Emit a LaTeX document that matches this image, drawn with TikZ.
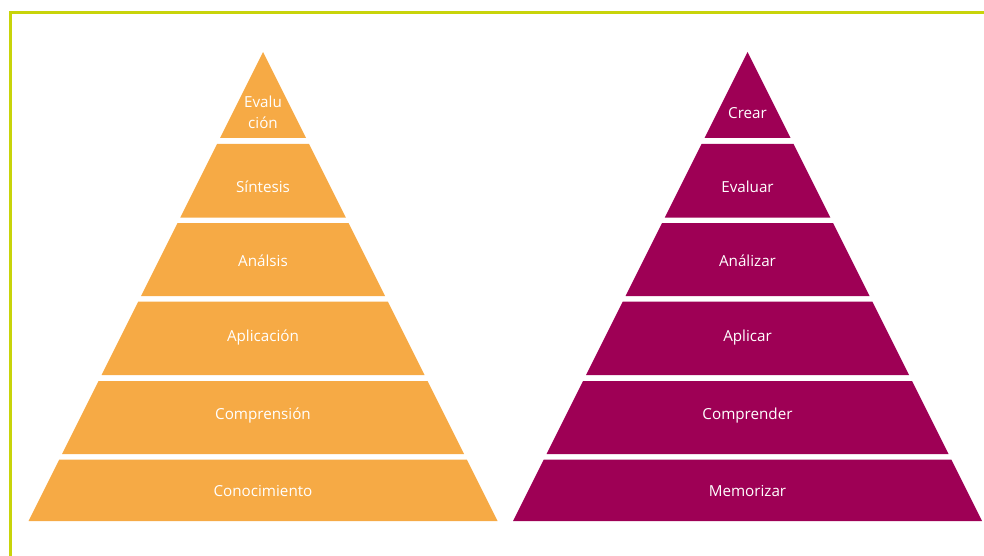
\documentclass[tikz,border=0pt]{standalone}
\usepackage{fontspec}
\setmainfont{Open Sans}
\definecolor{orangeP}{HTML}{F6AA45}
\definecolor{magP}{HTML}{9E0055}
\definecolor{frameG}{HTML}{C8D40A}
\begin{document}
\begin{tikzpicture}[x=1pt,y=-1pt,
  lbl/.style={text=white,font=\fontsize{15.2}{18}\selectfont,anchor=base,inner sep=0pt}]
\useasboundingbox (0,0) rectangle (984,556);
\draw[frameG,line width=3pt] (10.5,556) -- (10.5,12.5) -- (984,12.5);
\foreach \cx/\col in {263/orangeP,747.5/magP}{
  \fill[\col] (\cx,52) -- ({\cx+43},138) -- ({\cx-43},138) -- cycle;
  \foreach \t/\b in {144/217.5,223/296,301.5/375,381/454,459.5/521}{
    \fill[\col] ({\cx-(\t-52)/2},\t) -- ({\cx+(\t-52)/2},\t) -- ({\cx+(\b-52)/2},\b) -- ({\cx-(\b-52)/2},\b) -- cycle;
  }
}
% left pyramid labels
\node[lbl] (l1a) at (263,108) {Evalu};
\node[lbl] (l1b) at (263,129) {ción};
\node[lbl] (l2) at (263,192.5) {Síntesis};
\node[lbl] (l3) at (263,266) {Análsis};
\node[lbl] (l4) at (263,341.5) {Aplicación};
\node[lbl] (l5) at (263,419) {Comprensión};
\node[lbl] (l6) at (263,496) {Conocimiento};
% right pyramid labels
\node[lbl] (r1) at (747.5,119) {Crear};
\node[lbl] (r2) at (747.5,192.5) {Evaluar};
\node[lbl] (r3) at (747.5,266) {Análizar};
\node[lbl] (r4) at (747.5,341.5) {Aplicar};
\node[lbl] (r5) at (747.5,419) {Comprender};
\node[lbl] (r6) at (747.5,496) {Memorizar};
\end{tikzpicture}
\end{document}
